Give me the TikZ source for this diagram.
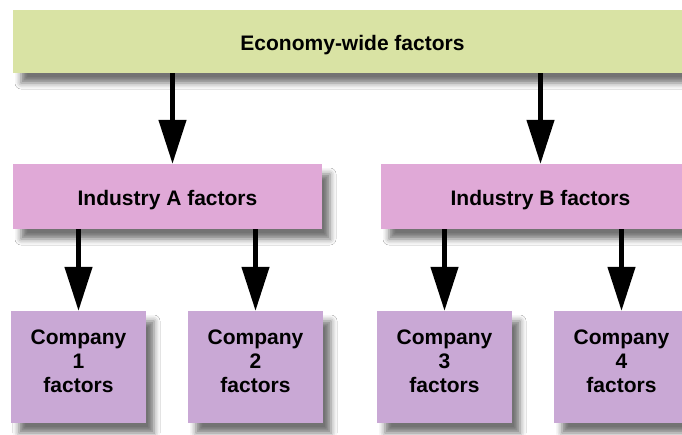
\documentclass[tikz,border=0pt]{standalone}
\usepackage{fontspec}
\setmainfont{Liberation Sans}
\usetikzlibrary{arrows.meta,shadows.blur}

\definecolor{econgreen}{HTML}{D9E3A4}
\definecolor{indpink}{HTML}{E0A9D7}
\definecolor{complilac}{HTML}{C9A8D5}

\begin{document}
\begin{tikzpicture}[>={Triangle[length=44pt,width=27pt]}, x=1pt, y=-1pt,
    box/.style={inner sep=0pt, align=center,
        font=\fontsize{21}{24}\selectfont\bfseries,
        blur shadow={shadow xshift=8pt, shadow yshift=-10pt,
            shadow blur radius=6pt, shadow opacity=55}},
    link/.style={->, line width=4.5pt}]
    % frame
    \fill[white] (0,0) rectangle (682,434);
    \useasboundingbox (0,0) rectangle (682,434);

    % top level
    \node[box, fill=econgreen, minimum width=679pt, minimum height=63pt,
        text height=23pt] (econ) at (352.5,41.5) {Economy-wide factors};

    % industries
    \node[box, fill=indpink, minimum width=309pt, minimum height=65pt,
        text height=23pt] (indA) at (167.5,196.5) {Industry A factors};
    \node[box, fill=indpink, minimum width=319pt, minimum height=65pt,
        text height=23pt] (indB) at (540.5,196.5) {Industry B factors};

    % companies
    \foreach \x/\n in {78.5/1, 255.5/2, 444.5/3, 621.5/4}
        \node[box, fill=complilac, minimum width=135pt, minimum height=112pt,
            text depth=12pt] (comp\n) at (\x,367) {Company\\\n\\factors};

    % arrows
    \draw[link] ([xshift=5pt]econ.south -| indA.north) -- ([xshift=5pt]indA.north);
    \draw[link] (econ.south -| indB.north) -- (indB.north);
    \draw[link] (indA.south -| comp1.north) -- (comp1.north);
    \draw[link] (indA.south -| comp2.north) -- (comp2.north);
    \draw[link] (indB.south -| comp3.north) -- (comp3.north);
    \draw[link] (indB.south -| comp4.north) -- (comp4.north);
\end{tikzpicture}
\end{document}
